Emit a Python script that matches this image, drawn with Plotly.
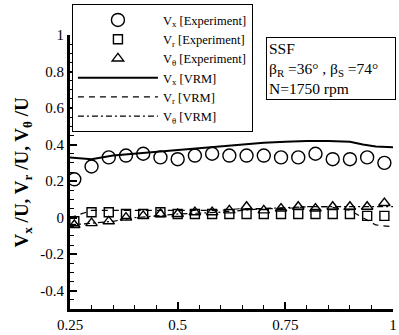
import plotly.graph_objects as go

# Experiment radial positions
x_exp = [0.26, 0.30, 0.34, 0.38, 0.42, 0.46, 0.50, 0.54, 0.58, 0.62,
         0.66, 0.70, 0.74, 0.78, 0.82, 0.86, 0.90, 0.94, 0.98]
vx_exp = [0.21, 0.28, 0.33, 0.34, 0.35, 0.33, 0.32, 0.34, 0.35, 0.34,
          0.34, 0.34, 0.33, 0.33, 0.35, 0.32, 0.32, 0.33, 0.30]
vr_exp = [-0.02, 0.03, 0.03, 0.02, 0.02, 0.03, 0.02, 0.02, 0.02, 0.02,
          0.02, 0.02, 0.02, 0.02, 0.02, 0.02, 0.02, 0.01, 0.01]
vt_exp = [-0.04, -0.03, -0.02, 0.00, 0.01, 0.02, 0.02, 0.03, 0.03, 0.04,
          0.06, 0.04, 0.05, 0.06, 0.05, 0.06, 0.06, 0.06, 0.08]

# VRM computation
x_vrm = [0.25, 0.30, 0.35, 0.40, 0.45, 0.50, 0.55, 0.60, 0.65, 0.70,
         0.75, 0.80, 0.85, 0.90, 0.93, 0.96, 1.00]
vx_vrm = [0.33, 0.32, 0.34, 0.35, 0.36, 0.37, 0.38, 0.39, 0.40, 0.41,
          0.415, 0.42, 0.42, 0.415, 0.40, 0.39, 0.385]
vr_vrm = [0.00, 0.04, 0.04, 0.04, 0.04, 0.04, 0.04, 0.04, 0.05, 0.05,
          0.05, 0.06, 0.06, 0.04, 0.00, -0.04, -0.05]
vt_vrm = [-0.04, -0.03, -0.02, 0.00, 0.01, 0.02, 0.025, 0.03, 0.04, 0.05,
          0.055, 0.06, 0.06, 0.06, 0.06, 0.06, 0.06]

xtick_vals = [0.25, 0.5, 0.75, 1.0]
xtick_text = ["0.25", "0.5", "0.75", "1"]
ytick_vals = [-0.4, -0.2, 0, 0.2, 0.4, 0.6, 0.8, 1.0]
ytick_text = ["-0.4", "-0.2", "0", "0.2", "0.4", "0.6", "0.8", "1"]

FONT = "Liberation Serif"
mk_line = dict(color="black", width=1.4)

fig = go.Figure()
fig.add_trace(go.Scatter(x=x_exp, y=vx_exp, mode="markers",
                         name="V<sub>x</sub> [Experiment]",
                         marker=dict(symbol="circle-open", size=13, color="black", line=mk_line)))
fig.add_trace(go.Scatter(x=x_exp, y=vr_exp, mode="markers",
                         name="V<sub>r</sub> [Experiment]",
                         marker=dict(symbol="square-open", size=9, color="black", line=mk_line)))
fig.add_trace(go.Scatter(x=x_exp, y=vt_exp, mode="markers",
                         name="V<sub>θ</sub> [Experiment]",
                         marker=dict(symbol="triangle-up-open", size=10, color="black", line=mk_line)))
fig.add_trace(go.Scatter(x=x_vrm, y=vx_vrm, mode="lines",
                         name="V<sub>x</sub> [VRM]",
                         line=dict(color="black", width=2, dash="solid")))
fig.add_trace(go.Scatter(x=x_vrm, y=vr_vrm, mode="lines",
                         name="V<sub>r</sub> [VRM]",
                         line=dict(color="black", width=1.2, dash="6px,5px")))
fig.add_trace(go.Scatter(x=x_vrm, y=vt_vrm, mode="lines",
                         name="V<sub>θ</sub> [VRM]",
                         line=dict(color="black", width=1.2, dash="6px,3px,2px,3px")))

fig.update_layout(
    width=399, height=335,
    margin=dict(l=70, r=2, t=35, b=24),
    paper_bgcolor="white", plot_bgcolor="white",
    font=dict(family=FONT, color="black", size=15),
    showlegend=True,
    legend=dict(x=0.006, y=1.112, xanchor="left", yanchor="top",
                bgcolor="white", bordercolor="black", borderwidth=1,
                font=dict(family=FONT, size=12.5, color="black"),
                itemwidth=80, tracegroupgap=0),
    xaxis=dict(range=[0.25, 1.0], tickvals=xtick_vals, ticktext=xtick_text,
               ticks="inside", ticklen=7, tickwidth=1.5, tickcolor="black",
               showline=True, linecolor="black", linewidth=3, mirror=False,
               showgrid=False, zeroline=False, ticklabeloverflow="allow",
               minor=dict(dtick=0.05, tick0=0.25, ticks="inside", ticklen=4,
                          tickcolor="black", tickwidth=1, showgrid=False),
               tickfont=dict(family=FONT, size=15, color="black")),
    yaxis=dict(range=[-0.5, 1.0], tickvals=ytick_vals, ticktext=ytick_text,
               ticks="inside", ticklen=7, tickwidth=1.5, tickcolor="black",
               showline=True, linecolor="black", linewidth=3, mirror=False,
               showgrid=False, zeroline=False,
               minor=dict(dtick=0.05, tick0=0, ticks="inside", ticklen=4,
                          tickcolor="black", tickwidth=1, showgrid=False),
               tickfont=dict(family=FONT, size=15, color="black")),
    annotations=[
        dict(xref="paper", yref="paper", x=-0.147, y=0.5,
             text="<b>V<sub>x</sub> /U, V<sub>r</sub> /U, V<sub>θ</sub> /U</b>",
             textangle=-90, showarrow=False, xanchor="center", yanchor="middle",
             font=dict(family=FONT, size=19, color="black")),
        dict(xref="paper", yref="paper", x=0.606, y=0.993,
             xanchor="left", yanchor="top", align="left", showarrow=False,
             text="SSF<br>β<sub>R</sub> =36° , β<sub>S</sub> =74°<br>N=1750 rpm",
             bordercolor="black", borderwidth=1, borderpad=2, bgcolor="white",
             width=124,
             font=dict(family=FONT, size=15.5, color="black")),
    ],
)

fig.write_html("out.html")
